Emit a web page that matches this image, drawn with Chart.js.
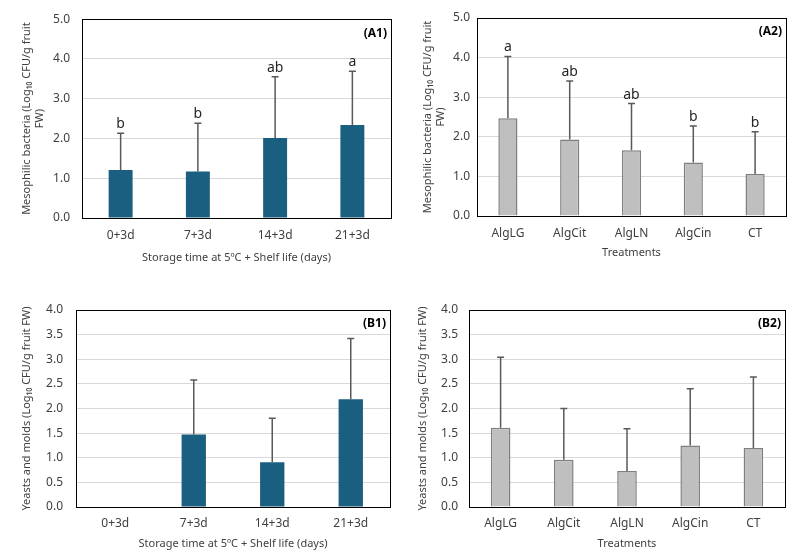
<!DOCTYPE html>
<html>
<head>
<meta charset="utf-8">
<script src="https://cdn.jsdelivr.net/npm/chart.js@4/dist/chart.umd.min.js"></script>
<style>
  html, body { margin: 0; padding: 0; background: #fff; }
  body { width: 800px; height: 556px; position: relative; overflow: hidden; }
  canvas { position: absolute; }
</style>
</head>
<body>
<canvas id="chartA1" width="400" height="270" style="left:0;top:0"></canvas>
<canvas id="chartA2" width="400" height="270" style="left:400px;top:0"></canvas>
<canvas id="chartB1" width="400" height="276" style="left:0;top:280px"></canvas>
<canvas id="chartB2" width="400" height="276" style="left:400px;top:280px"></canvas>
<script>
// categories
const storageDays = ["0+3d", "7+3d", "14+3d", "21+3d"];
const treatments = ["AlgLG", "AlgCit", "AlgLN", "AlgCin", "CT"];

// mesophilic bacteria
const mesoByStorage = [1.21, 1.17, 2.01, 2.34];
const mesoByStorageSD = [0.92, 1.21, 1.54, 1.35];
const mesoByStorageLetters = ["b", "b", "ab", "a"];
const mesoByTreatment = [2.47, 1.93, 1.66, 1.35, 1.06];
const mesoByTreatmentSD = [1.56, 1.48, 1.18, 0.92, 1.07];
const mesoByTreatmentLetters = ["a", "ab", "ab", "b", "b"];

// yeasts and molds
const yeastByStorage = [0, 1.47, 0.91, 2.19];
const yeastByStorageSD = [0, 1.11, 0.89, 1.23];
const yeastByTreatment = [1.61, 0.96, 0.73, 1.25, 1.20];
const yeastByTreatmentSD = [1.43, 1.04, 0.86, 1.15, 1.44];

// tick ranges
const mesoTicks = { max: 5, step: 1 };
const yeastTicks = { max: 4, step: 0.5 };

const FONT = "'Noto Sans', 'DejaVu Sans', sans-serif";
const TEXT = "#404040";
const BLUE = "#1a5e80";
const GREY = "#bfbfbf";

// error bars, letters, frame and panel tag
const extrasPlugin = {
  id: "extras",
  afterDatasetsDraw(chart, args, opts) {
    const ctx = chart.ctx;
    const meta = chart.getDatasetMeta(0);
    const y = chart.scales.y;
    const values = chart.data.datasets[0].data;
    ctx.save();
    meta.data.forEach((bar, i) => {
      const sd = opts.sd[i];
      if (!sd) return;
      const top = y.getPixelForValue(values[i] + sd);
      const base = y.getPixelForValue(values[i]);
      ctx.strokeStyle = "#595959";
      ctx.lineWidth = 1.5;
      ctx.beginPath();
      ctx.moveTo(bar.x, base);
      ctx.lineTo(bar.x, top);
      ctx.moveTo(bar.x - 3.5, top);
      ctx.lineTo(bar.x + 3.5, top);
      ctx.stroke();
      if (opts.letters) {
        ctx.fillStyle = "#262626";
        ctx.font = "14px " + FONT;
        ctx.textAlign = "center";
        ctx.textBaseline = "alphabetic";
        ctx.fillText(opts.letters[i], bar.x, top - 5);
      }
    });
    ctx.restore();
  },
  afterDraw(chart, args, opts) {
    const ctx = chart.ctx;
    const a = chart.chartArea;
    ctx.save();
    ctx.strokeStyle = "#000";
    ctx.lineWidth = 1;
    ctx.strokeRect(Math.round(a.left) + 0.5, Math.round(a.top) + 0.5,
      Math.round(a.right - a.left), Math.round(a.bottom - a.top));
    ctx.fillStyle = "#000";
    ctx.font = "bold 12px " + FONT;
    ctx.textAlign = "right";
    ctx.textBaseline = "middle";
    ctx.fillText(opts.tag, a.right - 4, a.top + 14);
    ctx.restore();
  }
};

function makeChart(id, cfg) {
  return new Chart(document.getElementById(id), {
    type: "bar",
    data: {
      labels: cfg.labels,
      datasets: [{
        data: cfg.values,
        backgroundColor: cfg.fill,
        borderColor: cfg.border || cfg.fill,
        borderWidth: cfg.border ? 1.5 : 0,
        categoryPercentage: 1,
        barPercentage: 0.31
      }]
    },
    options: {
      responsive: false,
      animation: false,
      events: [],
      layout: { padding: cfg.pad },
      plugins: {
        legend: { display: false },
        tooltip: { enabled: false },
        extras: { sd: cfg.sd, letters: cfg.letters, tag: cfg.tag }
      },
      scales: {
        x: {
          afterFit: (s) => { s.height = cfg.xHeight; },
          grid: { display: false, drawTicks: false },
          border: { display: false },
          ticks: { color: TEXT, padding: cfg.xTickPad, font: { family: FONT, size: 12 } },
          title: {
            display: true, text: cfg.xTitle, color: TEXT,
            font: { family: FONT, size: 11 }, padding: { top: 0, bottom: cfg.xTitlePad }
          }
        },
        y: {
          min: 0, max: cfg.ticks.max,
          afterFit: (s) => { s.width = cfg.yWidth; },
          grid: { color: "#d9d9d9", lineWidth: 1, drawTicks: false },
          border: { display: false },
          ticks: {
            stepSize: cfg.ticks.step, color: TEXT, padding: cfg.yTickPad,
            font: { family: FONT, size: 12 },
            callback: (v) => v.toFixed(1)
          },
          title: {
            display: true, text: cfg.yTitle, color: TEXT,
            font: { family: FONT, size: 11 }, padding: { top: cfg.yTitlePad, bottom: 0 }
          }
        }
      }
    },
    plugins: [extrasPlugin]
  });
}

const storageTitle = "Storage time at 5ºC + Shelf life (days)";
const mesoTitle = ["Mesophilic bacteria (Log\u2081\u2080 CFU/g fruit", "FW)"];
const yeastTitle = "Yeasts and molds (Log\u2081\u2080 CFU/g fruit FW)";

makeChart("chartA1", {
  labels: storageDays, values: mesoByStorage, sd: mesoByStorageSD, letters: mesoByStorageLetters,
  fill: BLUE, ticks: mesoTicks, tag: "(A1)",
  xTitle: storageTitle, yTitle: mesoTitle,
  pad: { left: 0, right: 9, top: 18, bottom: 0 },
  yWidth: 82, xHeight: 52, xTickPad: 10, yTickPad: 12, xTitlePad: 6, yTitlePad: 20
});

makeChart("chartA2", {
  labels: treatments, values: mesoByTreatment, sd: mesoByTreatmentSD, letters: mesoByTreatmentLetters,
  fill: GREY, border: "#7f7f7f", ticks: mesoTicks, tag: "(A2)",
  xTitle: "Treatments", yTitle: mesoTitle,
  pad: { left: 0, right: 14, top: 18, bottom: 0 },
  yWidth: 77, xHeight: 54, xTickPad: 10, yTickPad: 7, xTitlePad: 11, yTitlePad: 21
});

makeChart("chartB1", {
  labels: storageDays, values: yeastByStorage, sd: yeastByStorageSD,
  fill: BLUE, ticks: yeastTicks, tag: "(B1)",
  xTitle: storageTitle, yTitle: yeastTitle,
  pad: { left: 0, right: 10, top: 30, bottom: 0 },
  yWidth: 76, xHeight: 49, xTickPad: 9, yTickPad: 13, xTitlePad: 6, yTitlePad: 20
});

makeChart("chartB2", {
  labels: treatments, values: yeastByTreatment, sd: yeastByTreatmentSD,
  fill: GREY, border: "#7f7f7f", ticks: yeastTicks, tag: "(B2)",
  xTitle: "Treatments", yTitle: yeastTitle,
  pad: { left: 0, right: 15, top: 30, bottom: 0 },
  yWidth: 69, xHeight: 49, xTickPad: 9, yTickPad: 11, xTitlePad: 6, yTitlePad: 16
});
</script>
</body>
</html>
